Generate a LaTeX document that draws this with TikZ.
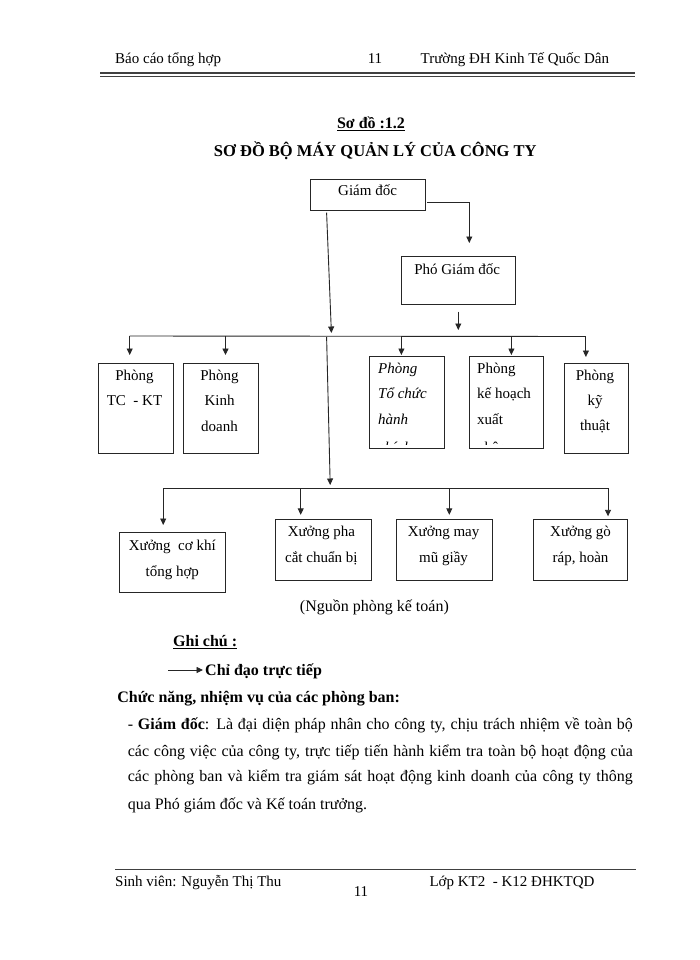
\documentclass[tikz,border=0pt]{standalone}
\usepackage{fontspec}
\setmainfont{Liberation Serif}
\usetikzlibrary{arrows.meta,calc}
\begin{document}
\begin{tikzpicture}[x=1pt,y=-1pt,
  box/.style={draw=black!85,line width=1pt,inner sep=0pt,anchor=north west},
  ln/.style={draw=black!85,line width=0.9pt},
  arr/.style={ln,-{Triangle[length=6.5pt,width=6pt]}},
  ct/.style={font=\fontsize{15}{18}\selectfont,inner sep=0pt,anchor=base},
  lt/.style={font=\fontsize{15}{18}\selectfont,inner sep=0pt,anchor=base west},
  hd/.style={font=\fontsize{15}{18}\selectfont,inner sep=0pt},
  bd/.style={font=\fontsize{16}{19}\selectfont,inner sep=0pt,anchor=base west},
  bc/.style={font=\fontsize{16}{19}\selectfont,inner sep=0pt,anchor=base},
]
\fill[white] (0,0) rectangle (700,960);
\useasboundingbox (0,0) rectangle (700,960);

% header
\node[hd,anchor=base west] (h1) at (115,63.3) {Báo cáo tổng hợp};
\node[hd,anchor=base] (h2) at (375,63.3) {11};
\node[hd,anchor=base east] (h3) at (609.3,63.3) {Trường ĐH Kinh Tế Quốc Dân};
\draw[black!75,line width=2pt] (100,73.5) -- (635,73.5);
\draw[black!75,line width=0.8pt] (100,76.8) -- (635,76.8);

% titles
\node[bc,font=\bfseries\fontsize{16}{19}\selectfont] (t1) at (371,129) {\underline{Sơ đồ :1.2}};
\node[bc,font=\bfseries\fontsize{16.5}{19}\selectfont] (t2) at (375.3,156.7) {SƠ ĐỒ BỘ MÁY QUẢN LÝ CỦA CÔNG TY};

% boxes
\node[box,minimum width=114.8,minimum height=31] (gd) at (309.7,179) {};
\node[box,minimum width=113.8,minimum height=48] (pgd) at (401,256) {};
\node[box,minimum width=74.5,minimum height=90] (tckt) at (98.3,362.7) {};
\node[box,minimum width=74.5,minimum height=90] (kd) at (183.1,362.7) {};
\node[box,minimum width=74.5,minimum height=92.3] (tc) at (369.3,356) {};
\node[box,minimum width=74.1,minimum height=92.3] (kh) at (469.3,356) {};
\node[box,minimum width=64,minimum height=90] (kt) at (564,362.7) {};
\node[box,minimum width=106,minimum height=60.6] (xck) at (119.3,531.7) {};
\node[box,minimum width=95.7,minimum height=60.7] (xpha) at (275,519.3) {};
\node[box,minimum width=95.8,minimum height=60.7] (xmay) at (396,519.3) {};
\node[box,minimum width=94,minimum height=60.7] (xgo) at (533.3,519.3) {};

% box texts
\node[ct] (gdt) at (367.6,196) {Giám đốc};
\node[ct] (pgdt) at (457.2,274) {Phó Giám đốc};
\node[ct] (tckt1) at (134.5,380) {Phòng};
\node[ct] (tckt2) at (134.5,405) {TC\ \ - KT};
\node[ct] (kd1) at (219.5,380) {Phòng};
\node[ct] (kd2) at (219.5,405) {Kinh};
\node[ct] (kd3) at (219.5,431) {doanh};
\node[lt,font=\itshape\fontsize{15}{18}\selectfont] (tc1) at (378,373.3) {Phòng};
\node[lt,font=\itshape\fontsize{15}{18}\selectfont] (tc2) at (378,398.7) {Tổ chức};
\node[lt,font=\itshape\fontsize{15}{18}\selectfont] (tc3) at (378,424.3) {hành};
\node[lt] (kh1) at (477,373.3) {Phòng};
\node[lt] (kh2) at (477,398.7) {kế hoạch};
\node[lt] (kh3) at (477,424.3) {xuất};
\begin{scope}
\clip ($(tc.south west)+(0,-4.5)$) rectangle ($(kh.south east)+(0,-12)$);
\node[lt,font=\itshape\fontsize{15}{18}\selectfont] (tc4) at (378,452.5) {chính};
\node[lt] (kh4) at (477,452.5) {nhập};
\end{scope}
\node[ct] (kt1) at (595,380) {Phòng};
\node[ct] (kt2) at (595,405) {kỹ};
\node[ct] (kt3) at (595,430.5) {thuật};
\node[ct] (xck1) at (172.3,550) {Xưởng\ \ cơ khí};
\node[ct] (xck2) at (172.3,576) {tổng hợp};
\node[ct] (xpha1) at (321.4,536.7) {Xưởng pha};
\node[ct] (xpha2) at (321.4,562.7) {cắt chuẩn bị};
\node[ct] (xmay1) at (443.6,536.7) {Xưởng may};
\node[ct] (xmay2) at (443.6,562.7) {mũ giầy};
\node[ct] (xgo1) at (580.5,536.7) {Xưởng gò};
\node[ct] (xgo2) at (580.5,562.7) {ráp, hoàn};

% connectors
\coordinate (j1) at (469.3,202.7);
\coordinate (p1) at (469.3,243);
\draw[arr] ($(gd.east |- j1)+(1.5,0)$) -- (j1) -- (p1);
\coordinate (m0) at (326.6,212.7);
\coordinate (m1) at (331.4,333);
\draw[arr] (m0) -- (m1);
\coordinate (p2) at (458.3,311.7);
\coordinate (p3) at (458.3,330);
\draw[arr] (p2) -- (p3);
\coordinate (bl) at (129.7,336);
\coordinate (br) at (585.9,336.5);
\draw[ln] (bl) -- (br);
\coordinate (a2) at (225.5,336);
\coordinate (a3) at (401.4,336);
\coordinate (a4) at (511.4,336.5);
\draw[arr] (bl) -- ($(bl |- tckt.north)+(0,-7.7)$);
\draw[arr] (a2) -- ($(a2 |- kd.north)+(0,-7.7)$);
\draw[arr] (a3) -- ($(a3 |- tc.north)+(0,-1)$);
\draw[arr] (a4) -- ($(a4 |- kh.north)+(0,-1)$);
\draw[arr] (br) -- ($(br |- kt.north)+(0,-5.7)$);
\coordinate (m2) at (326.6,337);
\coordinate (m3) at (330.2,485);
\draw[arr] (m2) -- (m3);
\coordinate (bb1) at (163.2,488.3);
\coordinate (bb2) at (608,488.3);
\draw[ln] (bb1) -- (bb2);
\coordinate (bb3) at (300.7,488.3);
\coordinate (bb4) at (449.3,488.3);
\draw[arr] (bb1) -- ($(bb1 |- xck.north)+(0,-6.7)$);
\draw[arr] (bb3) -- ($(bb3 |- xpha.north)+(0,-4.5)$);
\draw[arr] (bb4) -- ($(bb4 |- xmay.north)+(0,-4.5)$);
\draw[arr] (bb2) -- ($(bb2 |- xgo.north)+(0,-3)$);

% source & legend
\node[bc] (src) at (374.4,611.7) {(Nguồn phòng kế toán)};
\node[bd,font=\bfseries\fontsize{16}{19}\selectfont] (gc) at (173,646.7) {\underline{Ghi chú :}};
\coordinate (l1) at (168,670);
\coordinate (l2) at (203,670);
\draw[arr] (l1) -- (l2);
\node[bd,font=\bfseries\fontsize{16}{19}\selectfont] (lg) at (205,675) {Chỉ đạo trực tiếp};

% body text
\node[bd,font=\bfseries\fontsize{16}{19}\selectfont] (b1) at (117.2,702.7) {Chức năng, nhiệm vụ của các phòng ban:};
\node[bd] (b2) at (127.6,729) {\makebox[505pt][s]{- \textbf{Giám đốc}: Là đại diện pháp nhân cho công ty, chịu trách nhiệm về toàn bộ}};
\node[bd] (b3) at (127.6,756) {\makebox[505pt][s]{các công việc của công ty, trực tiếp tiến hành kiểm tra toàn bộ hoạt động của}};
\node[bd] (b4) at (127.6,781.7) {\makebox[505pt][s]{các phòng ban và kiểm tra giám sát hoạt động kinh doanh của công ty thông}};
\node[bd] (b5) at (127.6,809.3) {qua Phó giám đốc và Kế toán trưởng.};

% footer
\draw[black!75,line width=0.8pt] (115,869.5) -- (636,869.5);
\node[hd,anchor=base west] (f1) at (115,886.7) {Sinh viên: Nguyễn Thị Thu};
\node[hd,anchor=base] (f2) at (361,896.7) {11};
\node[hd,anchor=base west] (f3) at (429.3,886.7) {Lớp KT2\ \ - K12 ĐHKTQD};
\end{tikzpicture}
\end{document}
